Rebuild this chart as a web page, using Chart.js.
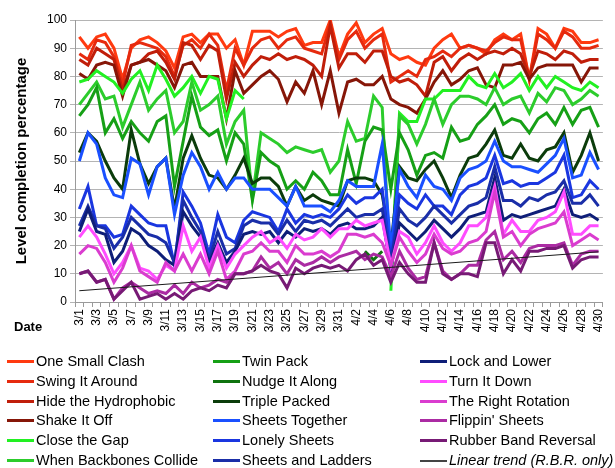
<!DOCTYPE html>
<html>
<head>
<meta charset="utf-8">
<script src="https://cdn.jsdelivr.net/npm/chart.js@4.4.1/dist/chart.umd.min.js"></script>
<style>
  html, body { margin: 0; padding: 0; background: #fff; }
  #wrap { position: relative; width: 615px; height: 468px; font-family: "Liberation Sans", Arial, sans-serif; color: #000; }
  #levels { position: absolute; left: 0; top: 0; }
  #dateTitle { position: absolute; left: 14px; top: 319px; font-weight: bold; font-size: 13px; }
  .item { position: absolute; font-size: 14.5px; line-height: 20px; white-space: nowrap; }
  .item .swatch { position: absolute; left: 0; top: 9px; width: 27px; height: 3px; }
  .item .label { position: absolute; left: 29px; top: 0; }
</style>
</head>
<body>
<div id="wrap">
  <canvas id="levels" width="615" height="468"></canvas>
  <div id="dateTitle">Date</div>
  <div id="legend"></div>
</div>
<script>
const dates = ['3/1','3/2','3/3','3/4','3/5','3/6','3/7','3/8','3/9','3/10',
  '3/11','3/12','3/13','3/14','3/15','3/16','3/17','3/18','3/19','3/20',
  '3/21','3/22','3/23','3/24','3/25','3/26','3/27','3/28','3/29','3/30','3/31',
  '4/1','4/2','4/3','4/4','4/5','4/6','4/7','4/8','4/9','4/10',
  '4/11','4/12','4/13','4/14','4/15','4/16','4/17','4/18','4/19','4/20',
  '4/21','4/22','4/23','4/24','4/25','4/26','4/27','4/28','4/29','4/30'];

const N = null;
const oneSmallClash = [94,90,94,95,90,79,90,93,94,92, 89,83,94,95,92,95,95,90,93,84,
  96,96,96,94,96,97,91,92,92,100, 87,95,99,92,95,97,88,86,87,85,
  84,90,93,95,90,91,90,88,93,95, 93,95,79,97,95,90,97,96,92,92, 93];
const swingItAround = [88,86,93,92,87,77,91,92,91,90, 87,80,91,93,90,95,91,75,90,84,
  90,93,94,90,93,94,90,89,88,99, 86,93,96,90,93,95,78,80,82,80,
  86,87,89,87,90,91,90,89,92,94, 93,93,79,95,93,90,96,94,90,90, 91];
const hideTheHydrophobic = [86,84,90,88,86,75,84,85,88,89, 85,79,92,91,86,91,89,72,85,80,
  84,87,86,88,86,87,86,84,80,98, 83,88,88,85,89,89,80,78,79,77,
  73,85,87,82,86,88,86,88,89,88, 90,88,80,89,88,86,89,88,85,86, 86];
const shakeItOff = [81,79,84,85,84,73,84,85,86,84, 82,76,84,85,80,80,80,65,82,74,
  77,80,82,79,71,78,74,82,70,82, 67,78,79,77,77,80,72,70,69,67,
  72,78,82,77,79,82,83,77,76,84, 84,85,79,83,84,84,84,84,78,83, 83];
const closeTheGap = [78,79,82,80,78,74,79,82,75,84, 79,73,76,80,74,80,79,65,75,72,
  N,N,N,N,N,N,N,N,N,N, N,N,N,N,N,N,4,67,64,64,
  72,72,75,75,75,80,77,76,81,76, 78,81,75,80,76,80,78,76,75,78, 76];
const whenBackbonesCollide = [70,74,78,72,73,62,70,78,68,72, 75,60,64,78,68,70,73,56,64,68,
  37,60,58,56,53,55,54,53,54,46, 50,64,57,58,73,69,8,66,63,56,
  63,72,63,70,73,73,72,70,76,70, 72,73,67,74,71,76,75,70,72,75, 73];
const twinPack = [66,70,76,60,65,58,64,60,57,64, 66,41,57,73,62,59,61,50,60,56,
  36,53,50,48,40,43,40,46,43,38, 38,54,42,57,62,61,40,60,54,45,
  52,53,51,62,57,58,63,66,70,63, 65,64,60,65,67,63,69,63,68,69, 62];
const nudgeItAlong = [N,N,N,N,N,N,N,N,N,N, N,N,N,N,N,N,N,N,N,N,
  N,N,N,N,N,N,N,N,N,N, N,N,N,18,15,18,N,N,N,N,
  N,N,N,N,N,N,N,N,N,N, N,N,N,N,N,N,N,N,N,N, N];
const triplePacked = [53,60,57,50,44,40,61,49,42,48, 51,33,51,59,51,45,44,40,45,51,
  42,44,44,41,34,41,36,38,36,35, 34,43,44,44,43,38,20,48,44,43,
  47,50,44,37,45,51,52,56,61,52, 51,56,51,50,54,55,60,46,52,60, 50];
const sheetsTogether = [50,60,56,44,38,37,51,49,38,48, 51,31,45,53,48,40,46,40,44,44,
  40,40,40,37,34,41,34,34,34,32, 36,43,41,41,41,56,19,47,41,37,
  45,41,40,36,44,47,48,50,57,50, 48,48,47,46,49,52,58,44,45,53, 47];
const lonelySheets = [33,41,27,27,23,24,34,31,28,27, 27,13,39,34,28,17,31,23,21,29,
  32,31,30,25,33,28,31,30,31,30, 33,38,35,37,37,40,15,38,35,33,
  38,34,34,31,38,41,42,44,52,42, 43,41,42,42,44,46,52,37,38,43, 40];
const sheetsAndLadders = [27,34,27,26,19,23,30,27,24,23, 21,14,36,30,25,15,25,17,19,27,
  29,28,28,24,29,25,29,28,29,27, 30,33,30,31,31,33,14,33,29,27,
  30,34,31,28,31,34,35,37,48,36, 36,34,37,36,38,39,43,35,35,38, 34];
const lockAndLower = [25,33,25,24,14,18,26,24,20,18, 15,13,32,27,23,14,21,14,18,24,
  25,24,25,21,25,23,26,25,26,24, 27,28,26,26,27,30,12,28,25,22,
  25,29,26,23,26,30,31,32,44,29, 31,30,31,32,33,34,40,31,30,31, 29];
const turnItDown = [23,27,23,17,10,14,20,12,11,8, 13,11,27,18,23,12,20,12,17,20,
  23,25,21,23,19,24,22,23,26,23, 26,26,29,27,28,29,13,25,23,17,
  21,27,21,18,21,27,27,30,41,24, 29,25,25,29,30,32,39,24,24,27, 27];
const theRightRotation = [17,20,19,14,7,12,20,11,9,7, 14,11,17,11,17,10,18,8,11,17,
  18,21,18,18,14,20,17,17,18,16, 18,24,24,23,24,21,13,23,18,14,
  17,24,19,17,18,21,22,25,39,23, 25,20,24,26,27,28,32,20,22,24, 22];
const flippinSheets = [10,11,7,8,1,5,7,5,3,4, 3,6,3,7,5,6,8,7,10,10,
  11,16,12,14,10,15,13,14,16,14, 16,17,18,15,17,16,9,18,12,8,
  9,21,11,8,10,13,13,22,25,15, 18,14,19,20,20,20,21,13,17,18, 18];
const rubberBandReversal = [10,11,7,8,1,4,7,1,2,3, 1,3,1,4,5,4,6,5,10,10,
  11,13,11,10,5,12,10,12,13,12, 13,11,15,17,13,15,7,14,10,7,
  7,21,10,8,10,10,9,21,21,10, 15,11,18,18,19,19,20,12,15,16, 16];
// trend end points
const trendStart = 4.0, trendEnd = 17.8;

const series = [
  ['One Small Clash', oneSmallClash, '#ff3a10'],
  ['Swing It Around', swingItAround, '#e62a0e'],
  ['Hide the Hydrophobic', hideTheHydrophobic, '#c01e0a'],
  ['Shake It Off', shakeItOff, '#861608'],
  ['Close the Gap', closeTheGap, '#22f022'],
  ['When Backbones Collide', whenBackbonesCollide, '#2ccc2c'],
  ['Twin Pack', twinPack, '#16a016'],
  ['Nudge It Along', nudgeItAlong, '#0f730f'],
  ['Triple Packed', triplePacked, '#0b3c0b'],
  ['Sheets Together', sheetsTogether, '#1a50ff'],
  ['Lonely Sheets', lonelySheets, '#1a36e0'],
  ['Sheets and Ladders', sheetsAndLadders, '#1a2ea8'],
  ['Lock and Lower', lockAndLower, '#0e1e78'],
  ['Turn It Down', turnItDown, '#ff4cff'],
  ['The Right Rotation', theRightRotation, '#da3ccf'],
  ["Flippin' Sheets", flippinSheets, '#ab2ba3'],
  ['Rubber Band Reversal', rubberBandReversal, '#771a75']
];

const datasets = series.map((s, i) => ({
  label: s[0],
  data: s[1],
  borderColor: s[2],
  backgroundColor: s[2],
  borderWidth: 3,
  pointRadius: 0,
  tension: 0,
  order: 40 - i
}));
datasets.push({
  label: 'Linear trend (R.B.R. only)',
  data: [{x: dates[0], y: trendStart}, {x: dates[dates.length - 1], y: trendEnd}],
  borderColor: '#1a1a1a',
  borderWidth: 1,
  pointRadius: 0,
  order: 0
});

Chart.defaults.font.family = '"Liberation Sans", Arial, sans-serif';
Chart.defaults.color = '#000';

new Chart(document.getElementById('levels').getContext('2d'), {
  type: 'line',
  data: { labels: dates, datasets: datasets },
  options: {
    responsive: false,
    animation: false,
    layout: { padding: { left: 0, top: 20, right: 5, bottom: 126 } },
    plugins: { legend: { display: false }, tooltip: { enabled: false } },
    scales: {
      x: {
        offset: true,
        border: { color: '#9a9a9a', width: 1 },
        grid: { display: true, drawOnChartArea: false, drawTicks: true, tickLength: 5, offset: true, color: '#9a9a9a' },
        ticks: {
          autoSkip: false, maxRotation: 90, minRotation: 90, padding: 2,
          font: { size: 12 },
          callback: function (v, i) { return i % 2 === 0 ? this.getLabelForValue(v) : ''; }
        },
        afterFit: s => { s.height = 40; }
      },
      y: {
        min: 0, max: 100,
        border: { color: '#9a9a9a', width: 1 },
        grid: { color: '#b4b4b4', lineWidth: 1, tickLength: 5, drawTicks: true },
        ticks: { stepSize: 10, padding: 3, font: { size: 12 } },
        title: { display: true, text: 'Level completion percentage', font: { size: 15, weight: 'bold' }, padding: { top: 13, bottom: 0 } },
        afterFit: s => { s.width = 75; }
      }
    }
  }
});

// legend: three columns, filled top to bottom
const legend = document.getElementById('legend');
const colX = [7, 213, 420];
datasets.forEach((d, i) => {
  const col = Math.floor(i / 6), row = i % 6;
  const item = document.createElement('div');
  item.className = 'item';
  item.style.left = colX[col] + 'px';
  item.style.top = (351 + row * 19.8) + 'px';
  const sw = document.createElement('span');
  sw.className = 'swatch';
  sw.style.background = d.borderColor;
  if (d.borderWidth === 1) { sw.style.height = '1.5px'; sw.style.top = '10px'; sw.style.background = '#444'; }
  const lb = document.createElement('span');
  lb.className = 'label';
  lb.textContent = d.label;
  if (d.borderWidth === 1) lb.style.fontStyle = 'italic';
  item.appendChild(sw);
  item.appendChild(lb);
  legend.appendChild(item);
});
</script>
</body>
</html>
